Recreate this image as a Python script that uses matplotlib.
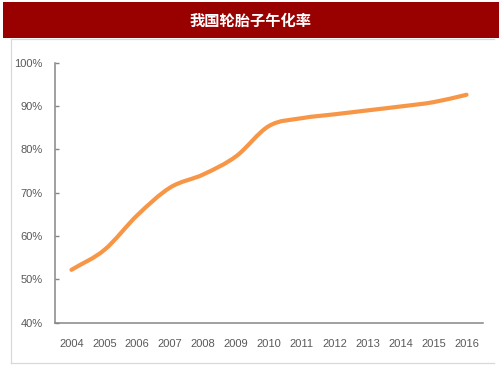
import numpy as np
import matplotlib
matplotlib.use("Agg")
import matplotlib.pyplot as plt
from matplotlib.path import Path
from matplotlib.patches import PathPatch, Rectangle
from matplotlib.lines import Line2D

title = "我国轮胎子午化率"
years = [2004, 2005, 2006, 2007, 2008, 2009, 2010, 2011, 2012, 2013, 2014, 2015, 2016]
rate = [52.2, 56.8, 64.8, 71.2, 74.2, 78.4, 85.4, 87.2, 88.1, 89.0, 89.9, 90.9, 92.6]
yticks = [40, 50, 60, 70, 80, 90, 100]
ytick_labels = ["40%", "50%", "60%", "70%", "80%", "90%", "100%"]

W, H = 503, 378
fig = plt.figure(figsize=(W / 100, H / 100), dpi=100)

# Banner
fig.patches.append(Rectangle((3 / W, 1 - 37.5 / H), 496 / W, 35.5 / H,
                             transform=fig.transFigure, facecolor="#990000",
                             edgecolor="none", zorder=0))
fig.text(250.5 / W, 1 - 20.5 / H, title, color="white", fontsize=11,
         fontweight="bold", ha="center", va="center",
         family=["Noto Sans CJK SC", "DejaVu Sans"])

# Light frame
fc = "#d9d9d9"
fig.lines.append(Line2D([11 / W, 494 / W], [1 - 38.5 / H, 1 - 38.5 / H],
                        transform=fig.transFigure, color=fc, lw=0.9))
fig.lines.append(Line2D([11 / W, 494 / W], [1 - 362.5 / H, 1 - 362.5 / H],
                        transform=fig.transFigure, color=fc, lw=0.9))
fig.lines.append(Line2D([11 / W, 11 / W], [1 - 38.5 / H, 1 - 362.5 / H],
                        transform=fig.transFigure, color=fc, lw=0.9))

ax = fig.add_axes([55 / W, 1 - 322.7 / H, 428 / W, 260 / H])
ax.set_xlim(2003.5, 2016.5)
ax.set_ylim(40, 100)

# Smooth curve via Catmull-Rom -> cubic Bezier
x = np.array(years, dtype=float)
y = np.array(rate, dtype=float)
px = np.concatenate([[2 * x[0] - x[1]], x, [2 * x[-1] - x[-2]]])
py = np.concatenate([[2 * y[0] - y[1]], y, [2 * y[-1] - y[-2]]])
verts = [(x[0], y[0])]
codes = [Path.MOVETO]
t = 1 / 6
for i in range(1, len(px) - 2):
    c1 = (px[i] + (px[i + 1] - px[i - 1]) * t, py[i] + (py[i + 1] - py[i - 1]) * t)
    c2 = (px[i + 1] - (px[i + 2] - px[i]) * t, py[i + 1] - (py[i + 2] - py[i]) * t)
    verts += [c1, c2, (px[i + 1], py[i + 1])]
    codes += [Path.CURVE4] * 3
ax.add_patch(PathPatch(Path(verts, codes), facecolor="none", edgecolor="#F79646",
                       lw=3.0, capstyle="round", joinstyle="round", zorder=3))

for s in ["top", "right"]:
    ax.spines[s].set_visible(False)
for s in ["left", "bottom"]:
    ax.spines[s].set_color("#868686")
    ax.spines[s].set_linewidth(1.1)

ax.set_yticks(yticks)
ax.set_yticklabels(ytick_labels)
ax.set_xticks(years)
ax.set_xticklabels([str(v) for v in years])
ax.tick_params(axis="y", direction="in", length=3, width=1, color="#868686",
               labelsize=8, labelcolor="#595959", pad=9)
ax.tick_params(axis="x", length=0, labelsize=8, labelcolor="#595959", pad=12)
for lab in ax.get_xticklabels() + ax.get_yticklabels():
    lab.set_family("Liberation Sans")

fig.savefig("out.png", dpi=100)
